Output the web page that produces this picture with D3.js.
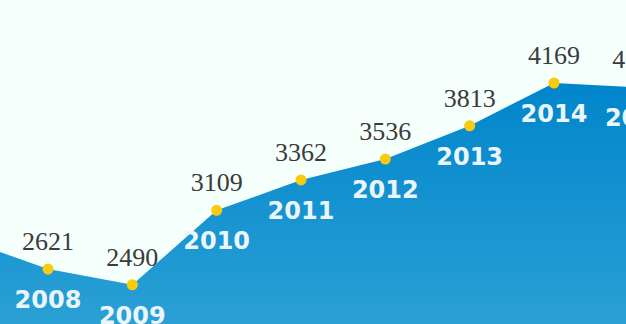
<!DOCTYPE html>
<html>
<head>
<meta charset="utf-8">
<script src="https://cdn.jsdelivr.net/npm/d3@7"></script>
<style>
  html, body { margin: 0; padding: 0; background: #f5fffc; }
  svg { display: block; }
</style>
</head>
<body>
<div class="chart"></div>
<script>
// years and values (2007 and 2016 sit outside the visible window)
var years = [2007, 2008, 2009, 2010, 2011, 2012, 2013, 2014, 2015, 2016];
var values = [2870, 2621, 2490, 3109, 3362, 3536, 3813, 4169, 4132, 4100];
var labelYears = [2008, 2009, 2010, 2011, 2012, 2013, 2014, 2015];

var width = 626, height = 324;

var data = years.map(function (y, i) { return {year: y, value: values[i]}; });

var x = d3.scaleLinear().domain([2008, 2014]).range([48, 554]);
var y = d3.scaleLinear().domain([2621, 4169]).range([269, 83]);

var svg = d3.select(".chart")
        .append("svg")
        .attr("width", width)
        .attr("height", height);

var defs = svg.append("defs");
var grad = defs.append("linearGradient")
        .attr("id", "fillGrad")
        .attr("gradientUnits", "userSpaceOnUse")
        .attr("x1", 0).attr("y1", 80)
        .attr("x2", 0).attr("y2", height);
grad.append("stop").attr("offset", "0%").attr("stop-color", "#0085cb");
grad.append("stop").attr("offset", "100%").attr("stop-color", "#2aa0d5");

var area = d3.area()
        .x(function (d) { return x(d.year); })
        .y0(height)
        .y1(function (d) { return y(d.value); });

svg.append("path")
        .datum(data)
        .attr("d", area)
        .style("fill", "url(#fillGrad)");

var shown = data.filter(function (d) { return labelYears.indexOf(d.year) >= 0; });

svg.selectAll(".dot")
        .data(shown)
        .enter()
        .append("circle")
        .attr("class", "dot")
        .attr("cx", function (d) { return x(d.year); })
        .attr("cy", function (d) { return y(d.value); })
        .attr("r", 5.5)
        .style("fill", "#f9cb0a");

svg.selectAll(".val")
        .data(shown)
        .enter()
        .append("text")
        .attr("class", "val")
        .attr("x", function (d) { return x(d.year); })
        .attr("y", function (d) { return y(d.value) - 19; })
        .style("text-anchor", "middle")
        .style("font-family", "'Liberation Serif', 'Times New Roman', serif")
        .style("font-size", "26px")
        .style("fill", "#3b3b3b")
        .text(function (d) { return d.value; });

svg.selectAll(".yr")
        .data(shown)
        .enter()
        .append("text")
        .attr("class", "yr")
        .attr("x", function (d) { return x(d.year); })
        .attr("y", function (d) { return y(d.value) + 39; })
        .style("text-anchor", "middle")
        .style("font-family", "'DejaVu Sans', sans-serif")
        .style("font-weight", "bold")
        .style("font-size", "24px")
        .style("fill", "#eaf6fc")
        .text(function (d) { return d.year; });
</script>
</body>
</html>
